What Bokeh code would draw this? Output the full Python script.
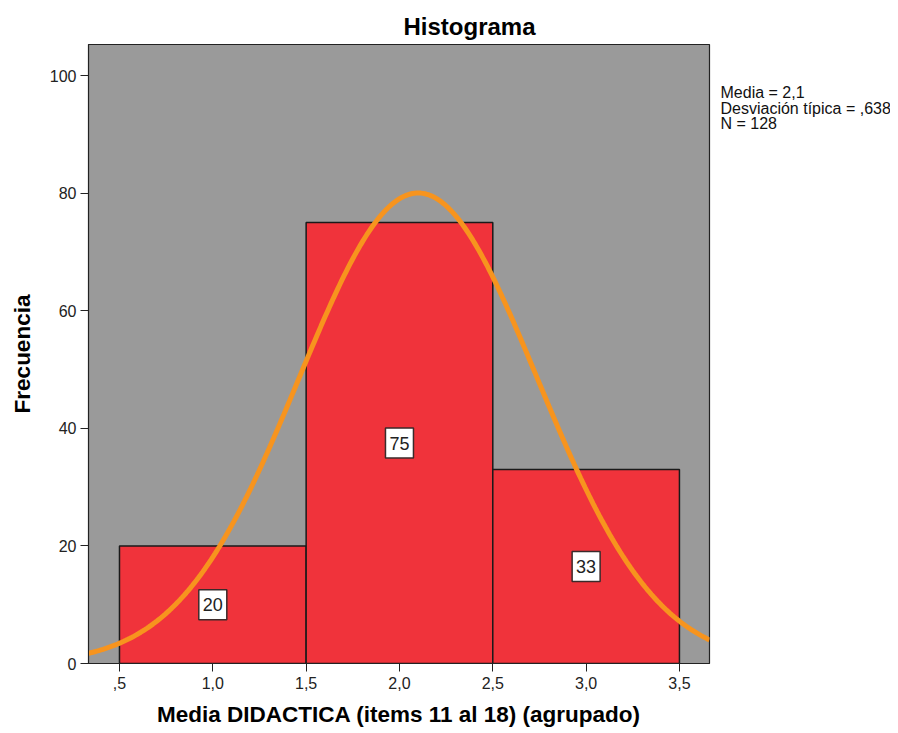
import numpy as np
from bokeh.plotting import figure
from bokeh.layouts import row
from bokeh.models import Range1d, FixedTicker
from bokeh.core.properties import value
from bokeh.embed import file_html
from bokeh.resources import INLINE

# ---- data ----
bin_left = [0.5, 1.5, 2.5]
bin_right = [1.5, 2.5, 3.5]
counts = [20, 75, 33]
MEAN = 2.1
SD = 0.638
N = 128
BIN_WIDTH = 1.0
x_ticks = [0.5, 1.0, 1.5, 2.0, 2.5, 3.0, 3.5]
x_tick_labels = [",5", "1,0", "1,5", "2,0", "2,5", "3,0", "3,5"]
y_ticks = [0, 20, 40, 60, 80, 100]
stats_lines = ["Media = 2,1", "Desviación típica = ,638", "N = 128"]

FONT = "Liberation Sans"
X0, X1 = 0.334, 3.661
Y0, Y1 = 0.0, 105.3
B_TOP, B_BOTTOM = 44, 70
FRAME_H = 619
H = B_TOP + FRAME_H + B_BOTTOM
W_MAIN = 715
W_SIDE = 175

p = figure(width=W_MAIN, height=H, x_range=Range1d(X0, X1), y_range=Range1d(Y0, Y1),
           output_backend="svg", toolbar_location=None,
           min_border_left=88, min_border_right=6, min_border_top=B_TOP, min_border_bottom=B_BOTTOM)

p.background_fill_color = "#9a9a9a"
p.border_fill_color = "white"
p.outline_line_color = "#222222"
p.outline_line_width = 1.2
p.xgrid.visible = False
p.ygrid.visible = False

p.title.text = "Histograma"
p.title.align = "left"
p.title.offset = 315
p.title.text_font = FONT
p.title.text_font_size = "24px"
p.title.text_font_style = "bold"
p.title.text_color = "black"
p.title.standoff = 10

for ax in (p.xaxis[0], p.yaxis[0]):
    ax.axis_line_color = "#222222"
    ax.major_tick_line_color = "#222222"
    ax.major_tick_out = 8
    ax.major_tick_in = 0
    ax.minor_tick_line_color = None
    ax.major_label_text_font = FONT
    ax.major_label_text_font_size = "16px"
    ax.major_label_text_color = "#222222"
    ax.axis_label_text_font = FONT
    ax.axis_label_text_font_size = "22.5px"
    ax.axis_label_text_font_style = "bold"
    ax.axis_label_text_color = "black"

p.xaxis.ticker = FixedTicker(ticks=x_ticks)
p.xaxis.major_label_overrides = {t: l for t, l in zip(x_ticks, x_tick_labels)}
p.xaxis.axis_label = "Media DIDACTICA (items 11 al 18) (agrupado)"
p.xaxis.major_label_standoff = 5
p.xaxis.axis_label_standoff = 10
p.yaxis.ticker = FixedTicker(ticks=y_ticks)
p.yaxis.axis_label = "Frecuencia"
p.yaxis.major_label_standoff = 4
p.yaxis.axis_label_standoff = 12

p.quad(left=bin_left, right=bin_right, bottom=0, top=counts,
       fill_color="#f0333b", line_color="#1a1a1a", line_width=1.5)

# fitted normal curve (from mean, sd, N shown in legend)
xs = np.linspace(X0, X1, 300)
ys = N * BIN_WIDTH * np.exp(-0.5 * ((xs - MEAN) / SD) ** 2) / (SD * np.sqrt(2 * np.pi))
p.line(xs, ys, line_color="#f7941e", line_width=5)

centers = [(a + b) / 2 for a, b in zip(bin_left, bin_right)]
mids = [c / 2 for c in counts]
p.rect(x=centers, y=mids, width=28, height=30, width_units="screen", height_units="screen",
       fill_color="white", line_color="#3a2a2a", line_width=1.5)
p.text(x=centers, y=mids, text=[str(c) for c in counts], text_align="center",
       text_baseline="middle", text_font=value(FONT), text_font_size="18px", text_color="#222222")

# side panel with the statistics text; its frame is aligned with the main frame,
# and its y range is in page pixels (downward)
q = figure(width=W_SIDE, height=H, x_range=Range1d(0, W_SIDE), y_range=Range1d(B_TOP + FRAME_H, B_TOP),
           output_backend="svg", toolbar_location=None,
           x_axis_location=None, y_axis_location=None,
           min_border_left=0, min_border_right=0, min_border_top=B_TOP, min_border_bottom=B_BOTTOM)
q.title = None
q.xgrid.visible = False
q.ygrid.visible = False
q.outline_line_color = None
q.background_fill_color = "white"
q.border_fill_color = "white"
q.text(x=[5] * len(stats_lines), y=[92 + 15.5 * i for i in range(len(stats_lines))],
       text=stats_lines, text_font=value(FONT), text_font_size="16px",
       text_color="#111111", text_baseline="alphabetic", text_align="left")

layout = row(p, q, spacing=0)
open("out.html", "w").write(file_html(layout, INLINE))
